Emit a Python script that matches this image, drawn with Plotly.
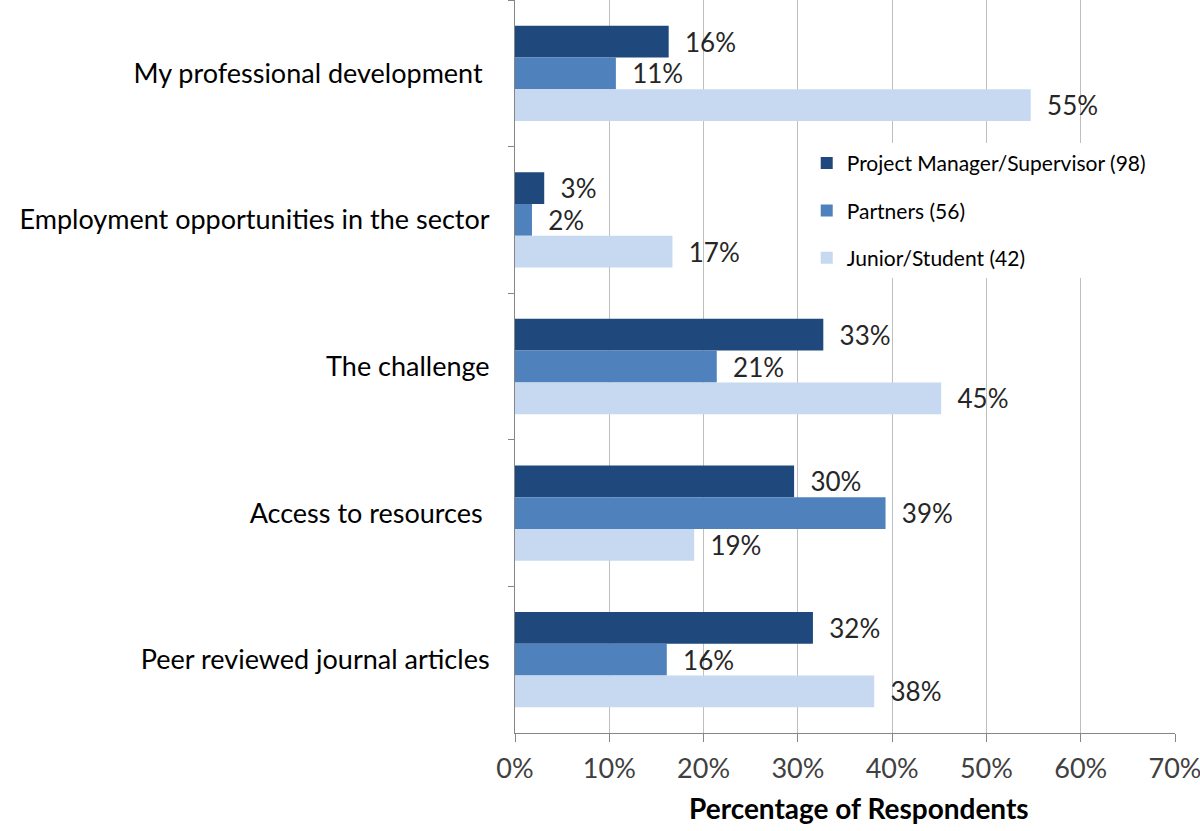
import plotly.graph_objects as go

categories = [
    "My professional development ",
    "Employment opportunities in the sector",
    "The challenge",
    "Access to resources ",
    "Peer reviewed journal articles",
]
series_names = [
    "Project Manager/Supervisor (98)",
    "Partners (56)",
    "Junior/Student (42)",
]
pm_values = [16.3, 3.1, 32.7, 29.6, 31.6]
partners_values = [10.7, 1.8, 21.4, 39.3, 16.1]
junior_values = [54.7, 16.7, 45.2, 19.0, 38.1]
x_ticks = [0, 10, 20, 30, 40, 50, 60, 70]
x_tick_labels = ["0%", "10%", "20%", "30%", "40%", "50%", "60%", "70%"]
x_title = "Percentage of Respondents"

colors = ["#1F497D", "#4F81BD", "#C6D9F0"]
FONT = "Lato"

fig = go.Figure()
for i, (name, vals) in enumerate(zip(series_names, [pm_values, partners_values, junior_values])):
    fig.add_trace(go.Bar(
        y=categories, x=vals, name=name, orientation="h",
        marker=dict(color=colors[i], line=dict(width=0)),
        texttemplate="  %{x:.0f}%", textposition="outside",
        textfont=dict(family=FONT, size=26, color="#262626"),
        constraintext="none", cliponaxis=False,
        legendgroup=f"g{i}",
    ))

fig.add_annotation(
    x=0.521, y=-0.102, xref="paper", yref="paper",
    text=f"<b>{x_title}</b>", showarrow=False,
    xanchor="center", yanchor="middle",
    font=dict(family=FONT, size=28, color="#000000"),
)

fig.update_layout(
    width=1200, height=831,
    margin=dict(l=515, r=25, t=0, b=98),
    paper_bgcolor="white", plot_bgcolor="white",
    barmode="group", bargap=0.35, bargroupgap=0,
    font=dict(family=FONT, color="#000000"),
    legend=dict(
        x=0.442, y=0.805, xanchor="left", yanchor="top",
        bgcolor="white", borderwidth=0,
        font=dict(family=FONT, size=21, color="#000000"),
        tracegroupgap=17, traceorder="grouped",
        itemwidth=30,
    ),
    xaxis=dict(
        range=[0, 70], tickvals=x_ticks, ticktext=x_tick_labels,
        showgrid=True, gridcolor="#BFBFBF", gridwidth=1,
        showline=True, linecolor="#868686", linewidth=1,
        ticks="outside", ticklen=8, tickcolor="#868686",
        tickfont=dict(family=FONT, size=27, color="#404040"),
        ticklabelstandoff=4, ticklabeloverflow="allow",
        zeroline=False,
    ),
    yaxis=dict(
        autorange="reversed",
        showline=True, linecolor="#868686", linewidth=1,
        ticks="outside", ticklen=6, tickcolor="#868686", tickson="boundaries",
        tickfont=dict(family=FONT, size=27, color="#000000"),
        ticklabelstandoff=19,
        showgrid=False,
    ),
)

fig.write_html(
    "out.html",
    config={"displayModeBar": False},
    post_script="document.body.style.margin='0';window.dispatchEvent(new Event('resize'));",
)
